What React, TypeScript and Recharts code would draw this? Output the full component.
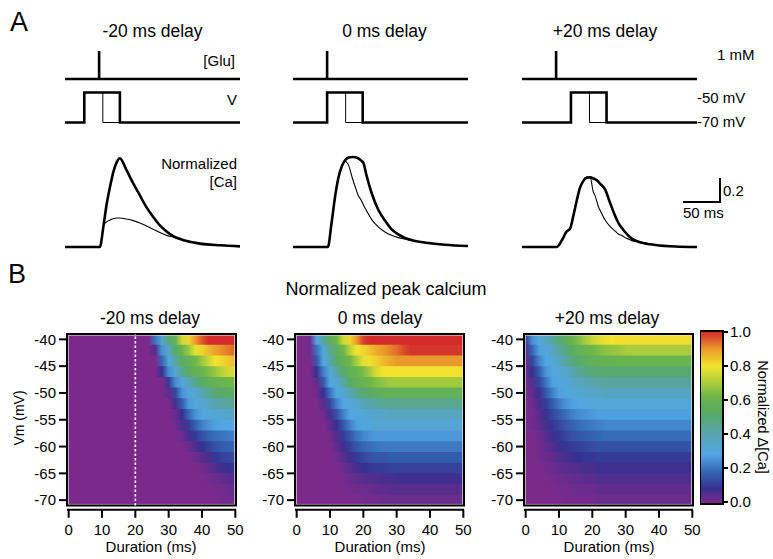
import React from 'react'
import {
  LineChart,
  Line,
  XAxis,
  YAxis,
  ScatterChart,
  ReferenceArea,
  ReferenceLine,
} from 'recharts'

const FONT = '"Liberation Sans", Arial, Helvetica, sans-serif'

// ---------- panel A: stimulus and calcium traces ----------
const traceEnd = 236 // ms shown per column
const gluT = [0, 46, 46, 46, 236]
const gluLevel = [0, 0, 1, 0, 0]
const vOnsets = [26, 46, 66] // -20, 0, +20 ms delay
const vRest = -70
const vStep = -50
const longPulse = 48
const shortPulse = 25

const caT1 = [0, 47, 52, 56, 61, 65, 70, 74, 83, 92, 101, 110, 119, 128, 137, 146, 164, 182, 210, 236]
const caThick1 = [0, 0, 0.18, 0.35, 0.51, 0.62, 0.71, 0.74, 0.64, 0.53, 0.43, 0.33, 0.25, 0.18, 0.13, 0.09, 0.05, 0.028, 0.014, 0.005]
const caThin1 = [0, 0, 0.18, 0.21, 0.225, 0.236, 0.242, 0.242, 0.233, 0.22, 0.2, 0.175, 0.147, 0.12, 0.097, 0.083, 0.05, 0.028, 0.014, 0.005]

const caT2 = [0, 47, 52, 57, 61, 66, 70, 75, 80, 84, 88, 92, 95, 99, 106, 115, 124, 133, 142, 151, 165, 180, 205, 236]
const caThick2 = [0, 0, 0.2, 0.43, 0.57, 0.675, 0.72, 0.745, 0.75, 0.748, 0.738, 0.72, 0.7, 0.6, 0.45, 0.31, 0.22, 0.147, 0.105, 0.075, 0.05, 0.035, 0.019, 0.008]
const caThin2 = [0, 0, 0.2, 0.43, 0.57, 0.675, 0.715, 0.68, 0.575, 0.5, 0.43, 0.39, 0.35, 0.305, 0.23, 0.167, 0.125, 0.097, 0.078, 0.066, 0.05, 0.035, 0.019, 0.008]

const caT3 = [0, 47, 54, 60, 65, 69, 74, 78, 83, 87, 92, 96, 99, 103, 105, 112, 119, 126, 130, 135, 139, 144, 148, 157, 180, 207, 236]
const caThick3 = [0, 0, 0.058, 0.128, 0.156, 0.253, 0.392, 0.49, 0.553, 0.578, 0.58, 0.572, 0.564, 0.545, 0.53, 0.48, 0.364, 0.253, 0.2, 0.156, 0.125, 0.092, 0.07, 0.044, 0.017, 0.004, 0]
const caThin3 = [0, 0, 0.058, 0.128, 0.156, 0.253, 0.392, 0.49, 0.553, 0.578, 0.58, 0.461, 0.42, 0.336, 0.31, 0.225, 0.17, 0.13, 0.108, 0.095, 0.078, 0.065, 0.053, 0.044, 0.017, 0.004, 0]

const scaleBarMs = 50
const scaleBarCa = 0.2

// ---------- panel B: normalized peak calcium (percent) ----------
const durations = [0, 2, 4, 6, 8, 10, 12, 14, 16, 18, 20, 22, 24, 26, 28, 30, 32, 34, 36, 38, 40, 42, 44, 46, 48, 50]
const vmLevels = [-40, -42, -44, -46, -48, -50, -52, -54, -56, -58, -60, -62, -64, -66, -68, -70]
const durTicks = [0, 10, 20, 30, 40, 50]
const vmTicks = [-40, -45, -50, -55, -60, -65, -70]
const cbarTicks = [0, 0.2, 0.4, 0.6, 0.8, 1.0]

const peakMinus20 = [
  [0,0,0,0,0,0,0,0,0,0,0,0,0,20,32,50,58,75,82,90,96,100,100,100,100,100],
  [0,0,0,0,0,0,0,0,0,0,0,0,0,5,25,35,52,60,68,78,82,86,89,91,93,95],
  [0,0,0,0,0,0,0,0,0,0,0,0,0,0,18,30,42,54,58,62,68,74,80,82,84,86],
  [0,0,0,0,0,0,0,0,0,0,0,0,0,0,8,24,32,45,53,57,60,64,68,72,75,77],
  [0,0,0,0,0,0,0,0,0,0,0,0,0,0,0,10,24,30,38,46,52,56,58,60,62,63],
  [0,0,0,0,0,0,0,0,0,0,0,0,0,0,0,3,12,25,30,33,40,45,50,52,54,55],
  [0,0,0,0,0,0,0,0,0,0,0,0,0,0,0,0,6,16,26,30,32,36,40,42,44,45],
  [0,0,0,0,0,0,0,0,0,0,0,0,0,0,0,0,2,8,18,25,29,31,32,33,34,35],
  [0,0,0,0,0,0,0,0,0,0,0,0,0,0,0,0,1,5,10,17,22,25,27,28,28,29],
  [0,0,0,0,0,0,0,0,0,0,0,0,0,0,0,0,0,2,6,10,14,17,19,20,21,22],
  [0,0,0,0,0,0,0,0,0,0,0,0,0,0,0,0,0,0,2,5,8,11,14,16,17,18],
  [0,0,0,0,0,0,0,0,0,0,0,0,0,0,0,0,0,0,0,2,4,6,9,11,12,13],
  [0,0,0,0,0,0,0,0,0,0,0,0,0,0,0,0,0,0,0,0,1,3,5,7,8,9],
  [0,0,0,0,0,0,0,0,0,0,0,0,0,0,0,0,0,0,0,0,0,1,2,3,4,5],
  [0,0,0,0,0,0,0,0,0,0,0,0,0,0,0,0,0,0,0,0,0,0,1,1,2,3],
  [0,0,0,0,0,0,0,0,0,0,0,0,0,0,0,0,0,0,0,0,0,0,0,1,1,1],
]

const peakZero = [
  [0,0,2,28,42,55,62,75,82,90,98,100,100,100,100,100,100,100,100,100,100,100,100,100,100,100],
  [0,0,1,20,30,45,55,62,72,80,82,85,88,90,92,94,97,99,99,99,99,99,99,99,99,99],
  [0,0,0,15,28,40,52,58,62,70,78,81,83,86,88,90,90,90,90,90,90,90,90,90,90,90],
  [0,0,0,8,22,30,42,52,57,60,64,70,76,80,80,80,80,80,80,80,80,80,80,80,80,80],
  [0,0,0,3,15,28,32,42,52,57,60,62,65,67,69,69,69,69,69,69,69,69,69,69,69,69],
  [0,0,0,1,8,20,29,32,40,46,50,53,55,57,57,57,57,57,57,57,57,57,57,57,57,57],
  [0,0,0,0,4,12,22,29,30,34,38,41,43,45,45,45,45,45,45,45,45,45,45,45,45,45],
  [0,0,0,0,1,6,14,22,28,30,31,33,34,35,36,37,37,37,37,37,37,37,37,37,37,37],
  [0,0,0,0,0,3,8,15,22,27,30,31,32,32,32,32,32,32,32,32,32,32,32,32,32,32],
  [0,0,0,0,0,1,5,10,15,20,23,25,26,26,26,26,26,26,26,26,26,26,26,26,26,26],
  [0,0,0,0,0,0,3,7,11,15,18,19,20,21,21,21,21,21,21,21,21,21,21,21,21,21],
  [0,0,0,0,0,0,1,4,7,10,12,14,15,15,16,16,16,16,16,16,16,16,16,16,16,16],
  [0,0,0,0,0,0,0,2,4,6,8,9,10,10,11,11,11,11,11,11,11,11,11,11,11,11],
  [0,0,0,0,0,0,0,1,2,3,4,5,5,6,6,7,7,7,7,7,7,7,7,7,7,7],
  [0,0,0,0,0,0,0,0,1,1,2,2,3,3,4,4,4,4,4,4,4,4,4,4,4,4],
  [0,0,0,0,0,0,0,0,0,0,1,1,1,2,2,2,2,2,2,2,2,2,2,2,2,2],
]

const peakPlus20 = [
  [10,25,30,36,42,50,55,60,65,70,74,77,79,80,81,81,81,81,81,81,81,81,81,81,81,81],
  [5,18,27,30,36,42,48,54,58,60,62,64,66,67,68,70,70,70,70,70,70,70,70,70,70,70],
  [3,12,22,28,31,36,42,48,52,55,57,58,59,59,60,60,60,60,60,60,60,60,60,60,60,60],
  [2,8,16,25,29,31,35,40,44,47,49,50,51,51,51,51,51,51,51,51,51,51,51,51,51,51],
  [1,5,12,20,27,30,31,34,37,39,41,42,43,43,43,43,43,43,43,43,43,43,43,43,43,43],
  [1,3,8,15,22,27,29,31,32,33,34,35,36,36,36,36,36,36,36,36,36,36,36,36,36,36],
  [0,2,6,10,16,21,25,27,28,29,30,31,31,31,31,31,31,31,31,31,31,31,31,31,31,31],
  [0,1,4,8,12,16,19,22,24,25,26,27,27,27,27,27,27,27,27,27,27,27,27,27,27,27],
  [0,1,3,6,9,12,15,17,19,20,21,22,23,23,23,23,23,23,23,23,23,23,23,23,23,23],
  [0,0,2,4,7,9,12,14,15,16,17,18,19,19,19,19,19,19,19,19,19,19,19,19,19,19],
  [0,0,1,3,5,7,9,10,11,12,13,14,14,14,14,14,14,14,14,14,14,14,14,14,14,14],
  [0,0,1,2,3,5,6,7,8,9,9,10,10,10,10,10,10,10,10,10,10,10,10,10,10,10],
  [0,0,0,1,2,3,4,5,5,6,6,7,7,7,7,7,7,7,7,7,7,7,7,7,7,7],
  [0,0,0,0,1,2,2,3,3,4,4,5,5,5,5,5,5,5,5,5,5,5,5,5,5,5],
  [0,0,0,0,0,1,1,1,2,2,2,3,3,3,3,3,3,3,3,3,3,3,3,3,3,3],
  [0,0,0,0,0,0,1,1,1,1,1,2,2,2,2,2,2,2,2,2,2,2,2,2,2,2],
]

// colormap (value 0..1 -> colour)
const cmapStops: [number, string][] = [
  [0.0, '#7b2a8c'],
  [0.08, '#36308f'],
  [0.18, '#3467b3'],
  [0.28, '#52a6e4'],
  [0.4, '#57a4b0'],
  [0.52, '#58aa66'],
  [0.62, '#6cb64a'],
  [0.72, '#b9d23a'],
  [0.8, '#f2e42e'],
  [0.9, '#ea9a2c'],
  [1.0, '#d32b2b'],
]

const hex = (h: string) => [1, 3, 5].map((i) => parseInt(h.slice(i, i + 2), 16))
function colorAt(pct: number) {
  const v = Math.max(0, Math.min(1, pct / 100))
  for (let i = 1; i < cmapStops.length; i++) {
    const [v0, c0] = cmapStops[i - 1]
    const [v1, c1] = cmapStops[i]
    if (v <= v1) {
      const f = (v - v0) / (v1 - v0)
      const a = hex(c0)
      const b = hex(c1)
      const rgb = a.map((x, k) => Math.round(x + (b[k] - x) * f))
      return `rgb(${rgb.join(',')})`
    }
  }
  return cmapStops[cmapStops.length - 1][1]
}

// ---------- helpers ----------
type Pt = { t: number; v: number }
const zip = (t: number[], v: number[]): Pt[] => t.map((x, i) => ({ t: x, v: v[i] }))
const stepTrace = (onset: number, dur: number): Pt[] => [
  { t: 0, v: vRest },
  { t: onset, v: vRest },
  { t: onset, v: vStep },
  { t: onset + dur, v: vStep },
  { t: onset + dur, v: vRest },
  { t: traceEnd, v: vRest },
]

const PAD = 3

function Trace({
  left, top, width, height, xDomain = [0, traceEnd], yDomain, series,
}: {
  left: number; top: number; width: number; height: number
  xDomain?: [number, number]; yDomain: [number, number]
  series: { data: Pt[]; w: number; curve?: 'linear' | 'monotone' }[]
}) {
  return (
    <div style={{ position: 'absolute', left: left - PAD, top: top - PAD }}>
      <LineChart
        width={width + 2 * PAD}
        height={height + 2 * PAD}
        margin={{ top: PAD, right: PAD, bottom: PAD, left: PAD }}
      >
        <XAxis type="number" dataKey="t" domain={xDomain} hide />
        <YAxis type="number" domain={yDomain} hide />
        {series.map((s, i) => (
          <Line
            key={i}
            data={s.data}
            dataKey="v"
            type={s.curve ?? 'linear'}
            stroke="#000"
            strokeWidth={s.w}
            dot={false}
            isAnimationActive={false}
          />
        ))}
      </LineChart>
    </div>
  )
}

const X_MIN = -0.5
const X_MAX = 50.2
const Y_MIN = -71
const Y_MAX = -39
const Y_AXIS_BOTTOM = -71.8
const PLOT_W = 169
const PLOT_H = 175.8
const ROW_H = 2 // mV per voltage band
const ROW_OVERLAP = 0.2 // hides anti-aliasing seams between bands

const axisStroke = { stroke: '#000', strokeWidth: 2 }
const tickFont = { fill: '#000', fontSize: 15 }
const stopOffset = (d: number) => `${((d - X_MIN) / (X_MAX - X_MIN)) * 100}%`

function Heatmap({
  id, left, top, values, marker,
}: { id: string; left: number; top: number; values: number[][]; marker?: number }) {
  const yw = 46
  const mt = 4
  const mr = 14
  const xh = 40
  return (
    <div style={{ position: 'absolute', left: left - yw, top: top - mt }}>
      <ScatterChart
        width={yw + PLOT_W + mr}
        height={mt + PLOT_H + xh}
        margin={{ top: mt, right: mr, bottom: 0, left: 0 }}
      >
        <defs>
          {vmLevels.map((vm, r) => (
            <linearGradient key={vm} id={`${id}-${r}`} x1="0" y1="0" x2="1" y2="0">
              {durations.map((d, c) => (
                <stop key={d} offset={stopOffset(d)} stopColor={colorAt(values[r][c])} />
              ))}
            </linearGradient>
          ))}
        </defs>
        <XAxis
          type="number"
          dataKey="x"
          domain={[X_MIN, X_MAX]}
          ticks={durTicks}
          interval={0}
          allowDataOverflow
          height={xh}
          tickSize={8}
          tickMargin={7}
          axisLine={axisStroke}
          tickLine={axisStroke}
          tick={tickFont}
        />
        <YAxis
          type="number"
          dataKey="y"
          domain={[Y_AXIS_BOTTOM, Y_MAX]}
          ticks={vmTicks}
          interval={0}
          allowDataOverflow
          width={yw}
          tickSize={8}
          tickMargin={3}
          axisLine={false}
          tickLine={axisStroke}
          tick={tickFont}
        />
        {vmLevels.map((vm, r) => (
          <ReferenceArea
            key={vm}
            x1={X_MIN}
            x2={X_MAX}
            y1={Math.max(vm - ROW_H / 2 - ROW_OVERLAP, Y_MIN)}
            y2={vm + ROW_H / 2}
            fill={`url(#${id}-${r})`}
            fillOpacity={1}
            stroke="none"
            ifOverflow="visible"
          />
        ))}
        {marker != null && (
          <ReferenceLine
            segment={[{ x: marker, y: Y_MIN }, { x: marker, y: Y_MAX }]}
            stroke="#fff"
            strokeWidth={1.6}
            strokeDasharray="2.5 2"
            ifOverflow="visible"
          />
        )}
        <ReferenceArea
          x1={X_MIN + 0.35}
          x2={X_MAX - 0.35}
          y1={Y_MIN + 0.2}
          y2={Y_MAX - 0.2}
          fill="none"
          stroke="#e4e4e4"
          strokeWidth={1}
          ifOverflow="visible"
        />
        <ReferenceArea
          x1={X_MIN}
          x2={X_MAX}
          y1={Y_MIN}
          y2={Y_MAX}
          fill="none"
          stroke="#000"
          strokeWidth={2}
          ifOverflow="visible"
        />
      </ScatterChart>
    </div>
  )
}

const CB_MIN = -0.012
const CB_MAX = 1.006

function ColorBar() {
  const top = 331
  const h = 173
  const m = 10
  return (
    <div style={{ position: 'absolute', left: 700, top: top - m }}>
      <ScatterChart width={23 + 44} height={h + 2 * m} margin={{ top: m, right: 0, bottom: m, left: 0 }}>
        <defs>
          <linearGradient id="cbarGrad" x1="0" y1="1" x2="0" y2="0">
            {cmapStops.map(([v, c]) => (
              <stop key={v} offset={`${((v - CB_MIN) / (CB_MAX - CB_MIN)) * 100}%`} stopColor={c} />
            ))}
          </linearGradient>
        </defs>
        <XAxis
          type="number"
          dataKey="x"
          domain={[0, 1]}
          allowDataOverflow
          height={0}
          tick={false}
          tickLine={false}
          axisLine={false}
        />
        <YAxis
          type="number"
          dataKey="y"
          orientation="right"
          domain={[CB_MIN, CB_MAX]}
          ticks={cbarTicks}
          interval={0}
          allowDataOverflow
          width={44}
          tickSize={5}
          tickMargin={2}
          axisLine={false}
          tickLine={axisStroke}
          tick={tickFont}
          tickFormatter={(v: number) => v.toFixed(1)}
        />
        <ReferenceArea
          x1={0}
          x2={1}
          y1={CB_MIN}
          y2={CB_MAX}
          fill="url(#cbarGrad)"
          fillOpacity={1}
          stroke="#000"
          strokeWidth={2}
          ifOverflow="visible"
        />
      </ScatterChart>
    </div>
  )
}

function Txt({
  x, y, size = 15, align = 'center', rotate = 0, children,
}: { x: number; y: number; size?: number; align?: 'left' | 'center' | 'right'; rotate?: number; children: React.ReactNode }) {
  const tx = align === 'center' ? '-50%' : align === 'right' ? '-100%' : '0'
  return (
    <div
      style={{
        position: 'absolute',
        left: x,
        top: y,
        transform: `translate(${tx}, -50%) rotate(${rotate}deg)`,
        fontSize: size,
        lineHeight: 1.15,
        whiteSpace: 'nowrap',
        color: '#000',
      }}
    >
      {children}
    </div>
  )
}

const colLefts = [65, 293, 522]
const colW = 175
const caSets = [
  [caT1, caThick1, caThin1],
  [caT2, caThick2, caThin2],
  [caT3, caThick3, caThin3],
]
const colTitles = ['-20 ms delay', '0 ms delay', '+20 ms delay']

export default function App() {
  return (
    <div
      style={{
        position: 'absolute',
        left: 0,
        top: 0,
        width: 773,
        height: 559,
        background: '#fff',
        fontFamily: FONT,
        overflow: 'hidden',
      }}
    >
      {/* ---- A ---- */}
      <Txt x={19} y={23} size={27}>A</Txt>
      {colTitles.map((t, i) => (
        <Txt key={t} x={[152.5, 384.5, 605][i]} y={31} size={17.5}>{t}</Txt>
      ))}
      {colLefts.map((l, i) => {
        const [ct, thick, thin] = caSets[i]
        return (
          <React.Fragment key={i}>
            <Trace left={l} top={44} width={colW} height={42} yDomain={[-0.25, 1.25]}
              series={[{ data: zip(gluT, gluLevel), w: 2.6 }]} />
            <Trace left={l} top={84.5} width={colW} height={45} yDomain={[-75, -45]}
              series={[
                { data: stepTrace(vOnsets[i], shortPulse), w: 1 },
                { data: stepTrace(vOnsets[i], longPulse), w: 2.6 },
              ]} />
            <Trace left={l} top={151} width={colW} height={102} yDomain={[-0.05, 0.8]}
              series={[
                { data: zip(ct, thin), w: 1.1, curve: 'monotone' },
                { data: zip(ct, thick), w: 2.6, curve: 'monotone' },
              ]} />
          </React.Fragment>
        )
      })}
      <Trace left={683} top={178} width={37} height={24} xDomain={[0, scaleBarMs]} yDomain={[0, scaleBarCa]}
        series={[{ data: [{ t: 0, v: 0 }, { t: scaleBarMs, v: 0 }, { t: scaleBarMs, v: scaleBarCa }], w: 2 }]} />

      <Txt x={235} y={61} align="right">[Glu]</Txt>
      <Txt x={237} y={100} align="right">V</Txt>
      <Txt x={237} y={164} align="right">Normalized</Txt>
      <Txt x={237} y={182} align="right">[Ca]</Txt>
      <Txt x={717} y={55} align="left">1 mM</Txt>
      <Txt x={697} y={98} align="left">-50 mV</Txt>
      <Txt x={697} y={122} align="left">-70 mV</Txt>
      <Txt x={723} y={191} align="left">0.2</Txt>
      <Txt x={683} y={213} align="left">50 ms</Txt>

      {/* ---- B ---- */}
      <Txt x={17} y={275} size={27}>B</Txt>
      <Txt x={386} y={289} size={18}>Normalized peak calcium</Txt>
      {colTitles.map((t, i) => (
        <Txt key={t} x={[150, 380, 607][i]} y={318} size={17.5}>{t}</Txt>
      ))}
      <Heatmap id="hmA" left={66.5} top={334} values={peakMinus20} marker={20} />
      <Heatmap id="hmB" left={295.3} top={334} values={peakZero} />
      <Heatmap id="hmC" left={524.3} top={334} values={peakPlus20} />
      <ColorBar />
      {[151, 380, 609].map((x) => (
        <Txt key={x} x={x} y={547}>Duration (ms)</Txt>
      ))}
      <Txt x={19} y={418} size={14} rotate={-90}>Vm (mV)</Txt>
      <Txt x={763} y={417} size={14.5} rotate={90}>Normalized Δ[Ca]</Txt>
    </div>
  )
}
